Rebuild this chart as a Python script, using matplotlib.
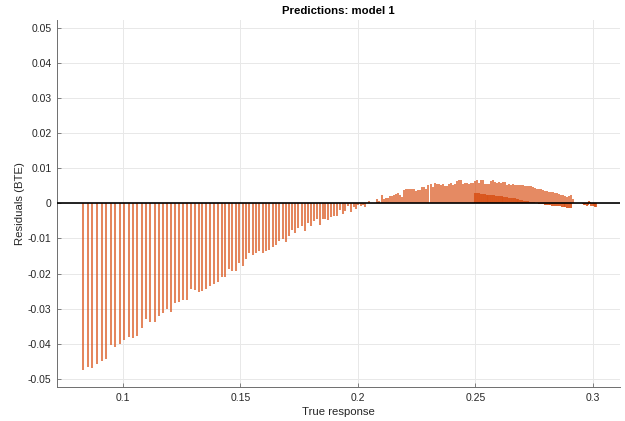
import matplotlib
matplotlib.use("Agg")
import matplotlib.pyplot as plt

plt.rcParams['font.family'] = ['Liberation Sans', 'DejaVu Sans']

# Residuals (predicted - true) against the true response
true_left = [0.0831, 0.0851, 0.0871, 0.0891, 0.0911, 0.0929, 0.0949, 0.0967, 0.0987, 0.1007,
             0.1026, 0.1044, 0.1062, 0.1081, 0.1099, 0.1117, 0.1136, 0.1154, 0.1171, 0.1187,
             0.1206, 0.1223, 0.1240, 0.1257, 0.1274, 0.1291, 0.1306, 0.1323, 0.1339, 0.1356,
             0.1371, 0.1389, 0.1404, 0.1421, 0.1437, 0.1452, 0.1466, 0.1481, 0.1496, 0.1511,
             0.1523, 0.1537, 0.1553, 0.1567, 0.1581, 0.1596, 0.1610, 0.1624, 0.1638, 0.1652,
             0.1666, 0.1681, 0.1695, 0.1708, 0.1720, 0.1733, 0.1747, 0.1762, 0.1776, 0.1787,
             0.1800, 0.1813, 0.1826, 0.1838, 0.1851, 0.1862, 0.1875, 0.1888, 0.1899, 0.1912,
             0.1925, 0.1936, 0.1947, 0.1960, 0.1971, 0.1983, 0.1993, 0.2003, 0.2013, 0.2021,
             0.2031, 0.2049, 0.2066, 0.2081, 0.2092, 0.2102, 0.2111, 0.2119, 0.2128]
resid_left = [-0.0475, -0.0466, -0.0469, -0.0458, -0.0448, -0.0443, -0.0403, -0.0409, -0.0400, -0.0390,
              -0.0381, -0.0383, -0.0377, -0.0355, -0.0330, -0.0337, -0.0338, -0.0320, -0.0312, -0.0300,
              -0.0310, -0.0284, -0.0281, -0.0274, -0.0274, -0.0243, -0.0248, -0.0253, -0.0251, -0.0243,
              -0.0236, -0.0229, -0.0224, -0.0211, -0.0210, -0.0188, -0.0193, -0.0192, -0.0171, -0.0179,
              -0.0158, -0.0141, -0.0146, -0.0141, -0.0136, -0.0141, -0.0136, -0.0134, -0.0124, -0.0120,
              -0.0107, -0.0103, -0.0110, -0.0093, -0.0077, -0.0085, -0.0069, -0.0066, -0.0079, -0.0057,
              -0.0065, -0.0049, -0.0046, -0.0063, -0.0046, -0.0044, -0.0048, -0.0039, -0.0036, -0.0036,
              -0.0020, -0.0031, -0.0022, -0.0008, -0.0025, -0.0011, -0.0017, -0.0006, -0.0008, -0.0004,
              -0.0010, 0.0006, 0.0001, 0.0011, 0.0006, 0.0025, 0.0013, 0.0015, 0.0015]

true_upper = [0.2138, 0.2146, 0.2155, 0.2163, 0.2172, 0.2180, 0.2189, 0.2197, 0.2206, 0.2214,
              0.2223, 0.2231, 0.2240, 0.2248, 0.2257, 0.2265, 0.2274, 0.2282, 0.2291, 0.2299,
              0.2312, 0.2321, 0.2329, 0.2338, 0.2346, 0.2355, 0.2363, 0.2372, 0.2380, 0.2389,
              0.2397, 0.2406, 0.2414, 0.2423, 0.2431, 0.2440, 0.2448, 0.2457, 0.2466, 0.2474,
              0.2482, 0.2491, 0.2500, 0.2508, 0.2517, 0.2525, 0.2533, 0.2542, 0.2550, 0.2559,
              0.2567, 0.2576, 0.2584, 0.2593, 0.2601, 0.2610, 0.2618, 0.2627, 0.2635, 0.2644,
              0.2652, 0.2661, 0.2669, 0.2678, 0.2686, 0.2695, 0.2703, 0.2712, 0.2720, 0.2729,
              0.2737, 0.2746, 0.2754, 0.2763, 0.2771, 0.2780, 0.2788, 0.2797, 0.2805, 0.2814,
              0.2822, 0.2831, 0.2840, 0.2848, 0.2857, 0.2865, 0.2874, 0.2882, 0.2891, 0.2899,
              0.2908, 0.2916, 0.2923]
resid_upper = [0.0021, 0.0021, 0.0023, 0.0027, 0.0028, 0.0023, 0.0018, 0.0039, 0.0040, 0.0042,
               0.0040, 0.0040, 0.0040, 0.0035, 0.0038, 0.0038, 0.0046, 0.0046, 0.0042, 0.0051,
               0.0056, 0.0047, 0.0058, 0.0054, 0.0055, 0.0053, 0.0054, 0.0048, 0.0049, 0.0056,
               0.0057, 0.0051, 0.0054, 0.0064, 0.0066, 0.0066, 0.0054, 0.0059, 0.0059, 0.0054,
               0.0059, 0.0058, 0.0064, 0.0066, 0.0059, 0.0065, 0.0066, 0.0054, 0.0056, 0.0056,
               0.0064, 0.0066, 0.0061, 0.0059, 0.0061, 0.0059, 0.0061, 0.0062, 0.0051, 0.0055,
               0.0051, 0.0054, 0.0053, 0.0053, 0.0052, 0.0051, 0.0051, 0.0050, 0.0049, 0.0048,
               0.0048, 0.0047, 0.0045, 0.0042, 0.0041, 0.0040, 0.0037, 0.0036, 0.0034, 0.0033,
               0.0032, 0.0032, 0.0030, 0.0028, 0.0027, 0.0025, 0.0023, 0.0021, 0.0018, 0.0021,
               0.0024, 0.0013, 0.0002]

true_lower = [0.2500, 0.2508, 0.2516, 0.2524, 0.2532, 0.2540, 0.2548, 0.2556, 0.2564, 0.2572,
              0.2580, 0.2588, 0.2596, 0.2604, 0.2612, 0.2620, 0.2628, 0.2636, 0.2644, 0.2652,
              0.2660, 0.2668, 0.2676, 0.2684, 0.2692, 0.2700, 0.2708, 0.2716, 0.2724, 0.2732,
              0.2740, 0.2748, 0.2756, 0.2764, 0.2772, 0.2780, 0.2788, 0.2796, 0.2804, 0.2812,
              0.2820, 0.2828, 0.2836, 0.2844, 0.2852, 0.2860, 0.2868, 0.2876, 0.2884, 0.2892,
              0.2900, 0.2908]
resid_lower = [0.0029, 0.0028, 0.0028, 0.0027, 0.0027, 0.0026, 0.0025, 0.0025, 0.0024, 0.0023,
               0.0023, 0.0022, 0.0021, 0.0020, 0.0020, 0.0019, 0.0018, 0.0017, 0.0016, 0.0016,
               0.0015, 0.0014, 0.0012, 0.0011, 0.0010, 0.0009, 0.0008, 0.0007, 0.0006, 0.0005,
               0.0004, 0.0003, 0.0002, 0.0001, -0.0001, -0.0002, -0.0003, -0.0004, -0.0005, -0.0005,
               -0.0006, -0.0007, -0.0007, -0.0008, -0.0008, -0.0009, -0.0010, -0.0010, -0.0011, -0.0012,
               -0.0012, -0.0013]

true_tail = [0.2957, 0.2962, 0.2968, 0.2974, 0.2980, 0.2986, 0.2990, 0.2994, 0.2999, 0.3004,
             0.3009, 0.3013]
resid_tail = [-0.0003, -0.0005, -0.0006, -0.0007, -0.0004, 0.0008, 0.0005, -0.0008, -0.0009, -0.0009,
              -0.0010, -0.0010]

x_ticks = [0.1, 0.15, 0.2, 0.25, 0.3]
x_tick_labels = ['0.1', '0.15', '0.2', '0.25', '0.3']
y_ticks = [-0.05, -0.04, -0.03, -0.02, -0.01, 0.0, 0.01, 0.02, 0.03, 0.04, 0.05]
y_tick_labels = ['-0.05', '-0.04', '-0.03', '-0.02', '-0.01', '0',
                 '0.01', '0.02', '0.03', '0.04', '0.05']

stem_color = '#D95319'
text_color = '#262626'
axis_color = '#6E6E6E'

fig = plt.figure(figsize=(6.25, 4.21), dpi=100)
ax = fig.add_axes([0.0912, 0.0808, 0.9008, 0.8717])

ax.vlines(true_left, 0, resid_left, colors=stem_color, alpha=0.7, linewidth=1.45, zorder=3)
ax.vlines(true_upper, 0, resid_upper, colors=stem_color, alpha=0.75, linewidth=1.3, zorder=3)
ax.vlines(true_lower, 0, resid_lower, colors=stem_color, alpha=0.9, linewidth=1.45, zorder=3)
ax.vlines(true_tail, 0, resid_tail, colors=stem_color, alpha=0.85, linewidth=1.45, zorder=3)

ax.axhline(0, color='black', linewidth=1.2, zorder=4)

ax.set_xlim(0.0720, 0.3116)
ax.set_ylim(-0.0523, 0.0522)
ax.set_xticks(x_ticks)
ax.set_xticklabels(x_tick_labels)
ax.set_yticks(y_ticks)
ax.set_yticklabels(y_tick_labels)

ax.grid(True, color='#E8E8E8', linewidth=0.7, zorder=0)
ax.set_axisbelow(True)

for side in ['top', 'right']:
    ax.spines[side].set_visible(False)
for side in ['left', 'bottom']:
    ax.spines[side].set_color(axis_color)
    ax.spines[side].set_linewidth(0.7)

ax.tick_params(direction='in', length=3, width=0.6, color=axis_color,
               labelsize=7.5, labelcolor=text_color, pad=4)

ax.set_title('Predictions: model 1', fontsize=8.2, fontweight='bold', color='black', pad=4)
ax.set_xlabel('True response', fontsize=8.2, color=text_color, labelpad=3)
ax.set_ylabel('Residuals (BTE)', fontsize=8.2, color=text_color, labelpad=2)

fig.savefig('out.png', dpi=100)
